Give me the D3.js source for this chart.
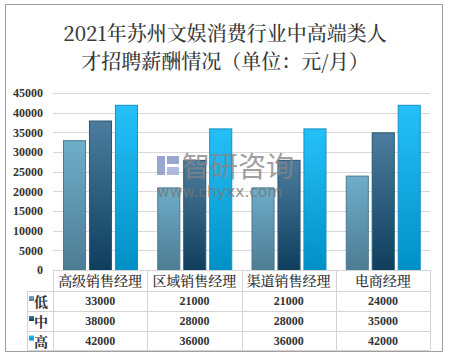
<!DOCTYPE html>
<html><head><meta charset="utf-8">
<script src="https://cdn.jsdelivr.net/npm/d3@7"></script>
<style>body{margin:0;background:#fff}</style>
</head><body>
<script>
const titleLines = ["2021年苏州文娱消费行业中高端类人", "才招聘薪酬情况（单位：元/月）"];
const categories = ["高级销售经理", "区域销售经理", "渠道销售经理", "电商经理"];
const seriesNames = ["低", "中", "高"];
const low = [33000, 21000, 21000, 24000];
const mid = [38000, 28000, 28000, 35000];
const high = [42000, 36000, 36000, 42000];
const yTicks = [0, 5000, 10000, 15000, 20000, 25000, 30000, 35000, 40000, 45000];
const seriesValues = [low, mid, high];
const colorsTop = ["#6fadc9", "#4c7d9e", "#25c0f8"];
const colorsBot = ["#4d7c93", "#0e3e5c", "#0090c6"];
const strokes = ["#4a7a90", "#2a5470", "#1a8fc0"];

const W = 449, H = 356;
const svg = d3.select("body").append("svg").attr("width", W).attr("height", H);
const defs = svg.append("defs");
seriesNames.forEach((s, i) => {
  const g = defs.append("linearGradient").attr("id", "g" + i).attr("x1", 0).attr("y1", 0).attr("x2", 0).attr("y2", 1);
  g.append("stop").attr("offset", "0%").attr("stop-color", colorsTop[i]);
  g.append("stop").attr("offset", "100%").attr("stop-color", colorsBot[i]);
});

svg.append("rect").attr("x", 5.5).attr("y", 4.5).attr("width", 437).attr("height", 347)
  .attr("fill", "#fff").attr("stroke", "#a0a0a0").attr("stroke-width", 1);

const titleFont = "'Noto Serif CJK SC','Noto Sans CJK SC',serif";
svg.selectAll("text.title").data(titleLines).join("text").attr("class", "title")
  .attr("x", 225).attr("y", (d, i) => 41 + i * 28)
  .attr("text-anchor", "middle").attr("font-family", titleFont)
  .attr("font-size", 20).attr("font-weight", 500).attr("fill", "#3a3a3a").text(d => d);

const x0 = 53, x1 = 430;
const y = d3.scaleLinear().domain([0, 45000]).range([270, 93]);
const x = d3.scaleBand().domain(categories).range([x0, x1]);
const xs = d3.scaleBand().domain(seriesNames).range([10, 84]).paddingInner(0.15);

// gridlines
svg.append("g").selectAll("line").data(yTicks.filter(t => t > 0)).join("line")
  .attr("x1", x0).attr("x2", x1).attr("y1", d => Math.round(y(d)) + 0.5).attr("y2", d => Math.round(y(d)) + 0.5)
  .attr("stroke", "#d9d9d9");

const numFont = "'Liberation Serif','DejaVu Serif',serif";
const yAxis = d3.axisLeft(y).tickValues(yTicks).tickFormat(d3.format("d")).tickSize(0).tickPadding(0);
const ya = svg.append("g").attr("transform", `translate(43,0)`).call(yAxis);
ya.select(".domain").remove();
ya.selectAll("text").attr("font-family", numFont).attr("font-weight", "bold")
  .attr("font-size", 12).attr("fill", "#333");

// bars
seriesNames.forEach((s, i) => {
  svg.append("g").selectAll("rect").data(categories.map((c, j) => ({c, v: seriesValues[i][j]}))).join("rect")
    .attr("x", d => x(d.c) + xs(s) + 0.5).attr("width", xs.bandwidth())
    .attr("y", d => y(d.v) + 0.5).attr("height", d => y(0) - y(d.v))
    .attr("fill", `url(#g${i})`).attr("stroke", strokes[i]).attr("stroke-width", 1);
});

// watermark
const wm = svg.append("g").attr("opacity", 0.78);
wm.append("rect").attr("x", 157).attr("y", 156).attr("width", 8).attr("height", 19).attr("fill", "#7d8fc4");
wm.append("rect").attr("x", 167).attr("y", 156).attr("width", 12).attr("height", 8).attr("fill", "#7d8fc4");
wm.append("rect").attr("x", 167).attr("y", 167).attr("width", 12).attr("height", 8).attr("fill", "#9aaad6");
wm.append("text").attr("x", 182).attr("y", 177).attr("font-family", "'Noto Sans CJK SC',sans-serif")
  .attr("font-size", 28).attr("fill", "#858585").text("智研咨询");
wm.append("text").attr("x", 157).attr("y", 197).attr("font-family", "'DejaVu Sans',sans-serif")
  .attr("font-size", 15.5).attr("fill", "#777").text("www.chyxx.com");

// data table
const rowY = [270, 291, 311, 331, 350];
const tg = svg.append("g").attr("stroke", "#d4d4d4").attr("stroke-width", 1);
rowY.forEach((ry, k) => {
  tg.append("line").attr("x1", k === 0 ? x0 : 27).attr("x2", x1).attr("y1", ry + 0.5).attr("y2", ry + 0.5);
});
const colX = [x0].concat(categories.map(c => x(c) + x.bandwidth()));
colX.forEach(cx => {
  tg.append("line").attr("x1", Math.round(cx) + 0.5).attr("x2", Math.round(cx) + 0.5).attr("y1", 270).attr("y2", 350);
});
tg.append("line").attr("x1", 27.5).attr("x2", 27.5).attr("y1", 291).attr("y2", 350);

const cjkFont = "'Noto Serif CJK SC','Noto Sans CJK SC',serif";
svg.append("g").selectAll("text").data(categories).join("text")
  .attr("x", d => x(d) + x.bandwidth() / 2).attr("y", 286).attr("text-anchor", "middle")
  .attr("font-family", cjkFont).attr("font-weight", 500).attr("font-size", 14).attr("fill", "#333").text(d => d);

seriesNames.forEach((s, i) => {
  const cy = (rowY[i + 1] + rowY[i + 2]) / 2;
  svg.append("rect").attr("x", 29).attr("y", cy - 5).attr("width", 5).attr("height", 5).attr("fill", `url(#g${i})`);
  svg.append("text").attr("x", 34).attr("y", cy + 6).attr("font-family", cjkFont).attr("font-weight", "bold")
    .attr("font-size", 14).attr("fill", "#333").text(s);
  svg.append("g").selectAll("text").data(categories.map((c, j) => ({c, v: seriesValues[i][j]}))).join("text")
    .attr("x", d => x(d.c) + x.bandwidth() / 2).attr("y", cy + 4).attr("text-anchor", "middle")
    .attr("font-family", numFont).attr("font-weight", "bold").attr("font-size", 12).attr("fill", "#333")
    .text(d => d.v);
});
</script>
</body></html>
